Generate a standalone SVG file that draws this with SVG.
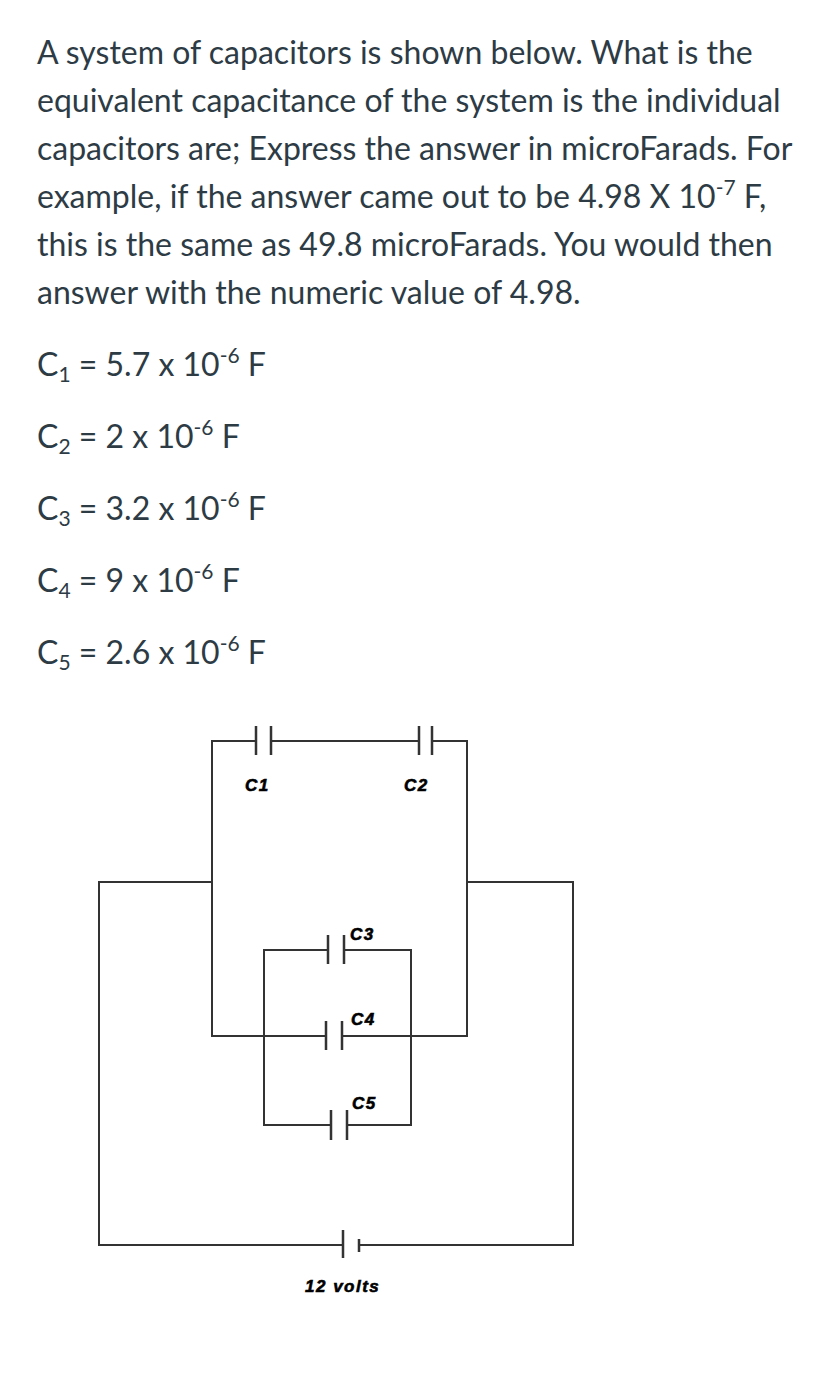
<svg xmlns="http://www.w3.org/2000/svg" width="825" height="1400" viewBox="0 0 825 1400">
<style>
.t{font-family:Lato,"Open Sans",sans-serif;font-size:32px;fill:#2d3b45}
.s{font-size:21px}
.w{stroke:#333;stroke-width:2;fill:none}
.p{stroke:#333;stroke-width:2.5}
.l{font-family:"Liberation Sans",Arial,sans-serif;font-weight:bold;font-style:italic;font-size:17px;letter-spacing:1.5px;fill:#000;stroke:#000;stroke-width:0.6}
</style>
<rect width="825" height="1400" fill="#fff"/>
<g id="question">
<text class="t" x="37" y="64">A system of capacitors is shown below. What is the</text>
<text class="t" x="37" y="112">equivalent capacitance of the system is the individual</text>
<text class="t" x="37" y="160">capacitors are; Express the answer in microFarads. For</text>
<text class="t" x="37" y="208">example, if the answer came out to be 4.98 X 10<tspan class="s" dy="-13">-7</tspan><tspan dy="13"> F,</tspan></text>
<text class="t" x="37" y="256">this is the same as 49.8 microFarads. You would then</text>
<text class="t" x="37" y="304">answer with the numeric value of 4.98.</text>
<text class="t" x="37" y="376">C<tspan class="s" dy="6">1</tspan><tspan dy="-6"> = 5.7 x 10</tspan><tspan class="s" dy="-13">-6</tspan><tspan dy="13"> F</tspan></text>
<text class="t" x="37" y="448">C<tspan class="s" dy="6">2</tspan><tspan dy="-6"> = 2 x 10</tspan><tspan class="s" dy="-13">-6</tspan><tspan dy="13"> F</tspan></text>
<text class="t" x="37" y="520">C<tspan class="s" dy="6">3</tspan><tspan dy="-6"> = 3.2 x 10</tspan><tspan class="s" dy="-13">-6</tspan><tspan dy="13"> F</tspan></text>
<text class="t" x="37" y="592">C<tspan class="s" dy="6">4</tspan><tspan dy="-6"> = 9 x 10</tspan><tspan class="s" dy="-13">-6</tspan><tspan dy="13"> F</tspan></text>
<text class="t" x="37" y="664">C<tspan class="s" dy="6">5</tspan><tspan dy="-6"> = 2.6 x 10</tspan><tspan class="s" dy="-13">-6</tspan><tspan dy="13"> F</tspan></text>
</g>
<g id="connectors">
<path class="w" d="M256 741H212V1036H326M342 1036H467V741H432M419 741H271"/>
<path class="w" d="M328 950H264V1125H331M347 1125H411V950H344"/>
<path class="w" d="M212 882H99V1245H343M359 1245H573V882H467"/>
</g>
<g id="C1"><path class="p" d="M256 726V755M271 726V755"/><text class="l" x="245" y="791">C1</text></g>
<g id="C2"><path class="p" d="M419 726V755M432 726V755"/><text class="l" x="404" y="791">C2</text></g>
<g id="C3"><path class="p" d="M328 935V964M344 935V964"/><text class="l" x="350" y="940">C3</text></g>
<g id="C4"><path class="p" d="M326 1021V1050M342 1021V1050"/><text class="l" x="351" y="1025">C4</text></g>
<g id="C5"><path class="p" d="M331 1110V1140M347 1110V1140"/><text class="l" x="352" y="1109">C5</text></g>
<g id="battery"><path class="p" d="M343 1230V1258M359 1239V1252"/><text class="l" x="305" y="1292">12 volts</text></g>
</svg>
